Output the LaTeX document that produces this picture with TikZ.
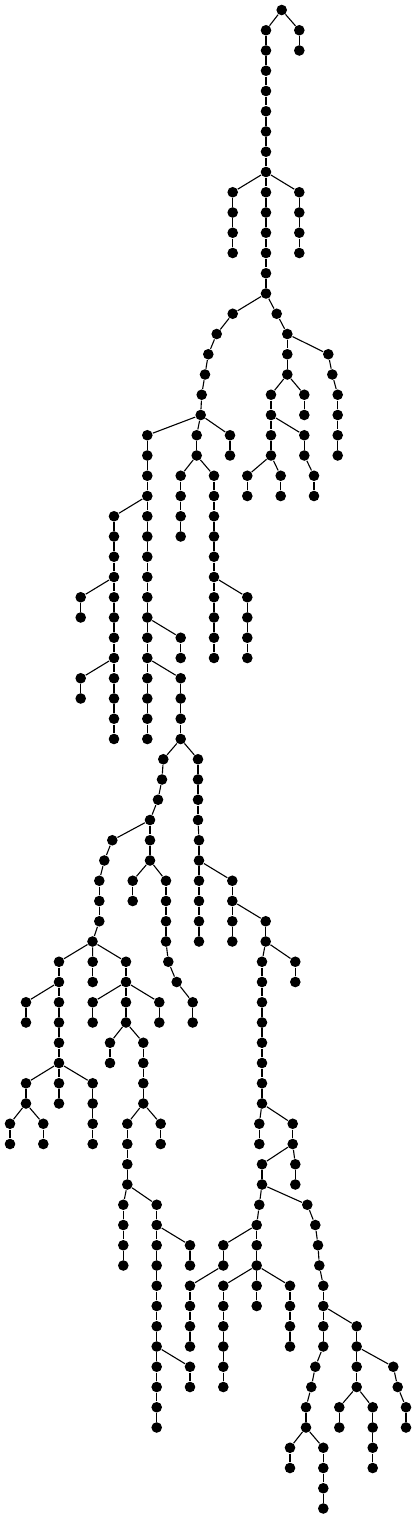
\documentclass[tikz,border=0pt]{standalone}
\usepackage{tikz}

\begin{document}
\begin{tikzpicture}[x=1pt,y=1pt,line width=1.1pt,main node/.style={circle,fill=black,inner sep=0pt,minimum size=10.6pt}]
    \useasboundingbox (0,0) rectangle (416,-1520);

		\node[main node](r) at (281.7,-10){};

		% name/x/first level/last level/parent of the first node
		\foreach \nm/\x/\from/\to/\up in {
			a/266/1/14/r, b/299.3/1/2/r, c/232.7/9/12/a8, d/299.3/9/12/a8,
			e/232.7/15/15/a14, e/216.7/16/16/e15, e/208.3/17/17/e16, e/205/18/18/e17, e/201.7/19/19/e18, e/200.7/20/20/e19,
			f/276.7/15/15/a14, f/287.3/16/16/f15,
			u/328.3/17/17/f16, u/332.3/18/18/u17, u/337.7/19/22/u18,
			t/287.3/17/18/f16, w/304.3/19/20/t18, v/271/19/22/t18, x/304.3/21/22/v20,
			y/247.3/23/24/v22, z/280.7/23/24/v22, aa/314/23/24/x22,
			i/230/21/22/e20, h/196.7/21/22/e20, j/180.7/23/26/h22, k/214/23/32/h22, l/247.3/29/32/k28,
			g/147.3/21/36/e20, o/180.7/31/32/g30, p/180.7/33/36/g32,
			m/114/25/36/g24, q/80.7/29/30/m28, s/80.7/33/34/m32,
			P/163.3/37/37/p36, P/162/38/38/P37, P/158/39/39/P38, P/150/40/40/P39,
			R/112.3/41/41/P40, R/104.3/42/42/R41, R/99.3/43/45/R42, R/92.5/46/46/R45,
			S/150/41/42/P40, T/132.7/43/44/S42,
			U/166/43/46/S42, U/168.3/47/47/U46, U/176.7/48/48/U47, U/192.7/49/50/U48,
			Q/198/37/40/p36, Q/199/41/46/Q40, V/232.3/43/46/Q42, W/265.7/45/46/V44,
			Y/295.3/47/48/W46, X/262/47/54/W46, Z/259.3/55/56/X54, AA/292.7/55/56/X54,
			AC/295.3/57/58/AA56, AB/262/57/58/AA56,
			AD/259.3/59/59/AB58, AD/256.7/60/60/AD59,
			AF/223.3/61/62/AD60, AF/190/63/66/AF62,
			AG/256.7/61/62/AD60, AH/223.3/63/68/AG62, AI/256.7/63/64/AG62, AJ/290/63/66/AG62,
			AE/307.3/59/59/AB58, AE/315.3/60/60/AE59, AE/318/61/61/AE60, AE/319.3/62/62/AE61,
			AE/323.3/63/66/AE62, AE/315.3/67/67/AE66, AE/311.3/68/68/AE67, AE/306/69/70/AE68,
			AL/290/71/72/AE70, AM/323.3/71/74/AE70,
			AK/356.7/65/68/AE64, AO/339.3/69/70/AK68, AP/372.7/69/72/AK68,
			AN/393.3/67/67/AK66, AN/397.7/68/68/AN67, AN/406/69/70/AN68,
			BA/59/47/48/R46, BD/26/49/50/BA48, BA/59/49/52/BA48,
			BE/26/53/54/BA52, BH/10/55/56/BE54, BI/43.3/55/56/BE54,
			BF/59/53/54/BA52, BG/92.7/53/56/BA52, BB/92.7/47/48/R46,
			BC/126/47/50/R46, BJ/92.7/49/50/BC48, BS/159.3/49/50/BC48,
			BK/110/51/52/BC50, BL/143.3/51/54/BC50, BN/160.7/55/56/BL54,
			BM/127.3/55/58/BL54, BO/123.3/59/62/BM58, BP/156.7/59/66/BM58,
			BQ/190/61/62/BP60, BP/156.7/67/70/BP66, BR/190/67/68/BP66}{
			\foreach \l in {\from,...,\to}{
				\node[main node](\nm\l) at (\x,{-10-20.25*\l}){};
				\pgfmathtruncatemacro\prev{\l-1}
				\ifnum\l=\from
					\path (\up) edge (\nm\l);
				\else
					\path (\nm\prev) edge (\nm\l);
				\fi
			}
		}

	\end{tikzpicture}
\end{document}
